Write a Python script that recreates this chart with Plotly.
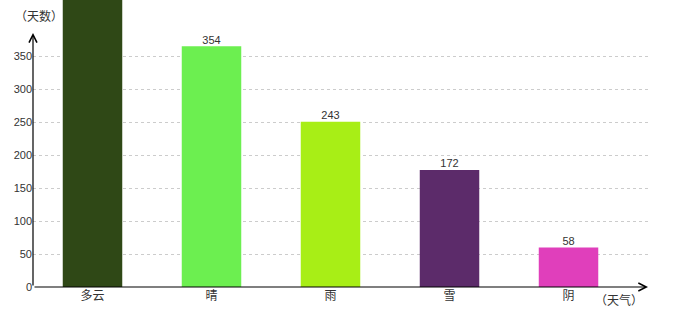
import plotly.graph_objects as go

categories = ["多云", "晴", "雨", "雪", "阴"]
values = [463, 354, 243, 172, 58]
colors = ["#2F4816", "#6CEF50", "#A8EE16", "#5C2B6A", "#E03FBB"]
tick_labels = [0, 50, 100, 150, 200, 250, 300, 350]

# the reference draws its tick grid on a slightly compressed scale vs. the bars
grid_scale = 0.66 / 0.68
y_max = 287 / 0.68

FONT = "Arial, 'Liberation Sans', 'Noto Sans CJK SC', sans-serif"
CJK = "Noto Sans CJK SC"

# labels of bars that run off the top of the chart are not visible in the reference
bar_text = [str(v) if v < y_max * 0.95 else "" for v in values]

fig = go.Figure()
fig.add_trace(go.Bar(
    x=categories, y=values, marker=dict(color=colors, line=dict(width=0)),
    hoverinfo="skip", showlegend=False,
))
fig.add_trace(go.Scatter(
    x=categories, y=values, mode="text", text=bar_text,
    textposition="top center", textfont=dict(size=11, color="#333333", family=FONT),
    cliponaxis=True, hoverinfo="skip", showlegend=False,
))

fig.update_layout(
    width=680, height=320,
    margin=dict(l=33, r=32, t=0, b=33),
    paper_bgcolor="white", plot_bgcolor="white",
    bargap=0.5,
    xaxis=dict(
        range=[-0.5, 4.668], showline=False, showgrid=False, zeroline=False,
        ticks="", tickfont=dict(size=12, color="#333333", family=CJK),
        fixedrange=True,
    ),
    yaxis=dict(
        range=[0, y_max], showline=False, zeroline=False,
        tickvals=[t * grid_scale for t in tick_labels],
        ticktext=[str(t) for t in tick_labels],
        ticks="", tickfont=dict(size=11, color="#333333", family=FONT),
        showgrid=True, gridcolor="#cccccc", griddash="3px,3px", gridwidth=1,
        fixedrange=True,
    ),
    annotations=[
        dict(xref="paper", yref="paper", x=0, y=(287 - 33) / 287, ax=0, ay=254,
             axref="pixel", ayref="pixel", text="", showarrow=True,
             arrowhead=5, arrowsize=1.3, arrowwidth=1.2, arrowcolor="#000000",
             standoff=0, startstandoff=0),
        dict(xref="paper", yref="paper", x=1, y=0, ax=-615, ay=0,
             text="", showarrow=True,
             arrowhead=5, arrowsize=1.3, arrowwidth=1.2, arrowcolor="#000000",
             standoff=0, startstandoff=0),
        dict(xref="paper", yref="paper", x=(13 - 33) / 615, y=(287 - 15) / 287,
             xanchor="left", yanchor="middle", text="（天数）", showarrow=False,
             font=dict(size=12, color="#333333", family=CJK)),
        dict(xref="paper", yref="paper", x=(593 - 33) / 615, y=-12 / 287,
             xanchor="left", yanchor="middle", text="（天气）", showarrow=False,
             font=dict(size=12, color="#333333", family=CJK)),
    ],
)

fig.write_html("out.html")
